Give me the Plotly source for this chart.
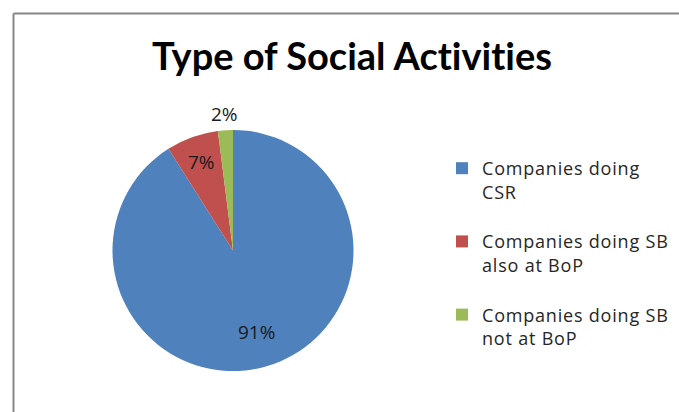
import math
import plotly.graph_objects as go

# Share of companies by type of social activity
categories = [
    "Companies doing<br>CSR",
    "Companies doing SB<br>also at BoP",
    "Companies doing SB<br>not at BoP",
]
shares = [91, 7, 2]
colors = ["#4F81BD", "#C0504D", "#9BBB59"]

# radial placement of each percentage label, as a fraction of the radius
label_radius = [0.70, 0.78, 1.13]

W, H = 679, 412
# pie box in pixels: left, right, top, bottom
PX0, PX1, PY0, PY1 = 112, 354, 130, 371
cx, cy = (PX0 + PX1) / 2, (PY0 + PY1) / 2
R = (PX1 - PX0) / 2

# legend entries: slightly tracked text plus a blank line as spacing between items
legend_labels = [
    f'<span style="letter-spacing:0.8px">{c}</span><br> ' for c in categories
]

fig = go.Figure(
    go.Pie(
        labels=legend_labels,
        values=shares,
        sort=False,
        direction="clockwise",
        rotation=0,
        marker=dict(colors=colors, line=dict(width=0)),
        textinfo="none",
        domain=dict(x=[PX0 / W, PX1 / W], y=[(H - PY1) / H, (H - PY0) / H]),
        hoverinfo="percent",
    )
)

# percentage labels placed at each slice's mid-angle
total = sum(shares)
cum = 0
annotations = []
for v, rf in zip(shares, label_radius):
    mid = (cum + v / 2) / total * 2 * math.pi
    cum += v
    px = cx + rf * R * math.sin(mid)
    py = cy - rf * R * math.cos(mid)
    annotations.append(dict(
        x=px / W, y=(H - py) / H, xref="paper", yref="paper",
        text=f"{v}%", showarrow=False, xanchor="center", yanchor="middle",
        font=dict(family="Open Sans", size=19, color="#1a1a1a"),
    ))

fig.update_layout(
    width=W,
    height=H,
    margin=dict(l=0, r=0, t=0, b=0),
    paper_bgcolor="white",
    plot_bgcolor="white",
    annotations=annotations,
    title=dict(
        text='<span style="font-variant-ligatures:none"><b>Type of Social Activities</b></span>',
        x=352 / W,
        xanchor="center",
        y=(H - 57) / H,
        yanchor="middle",
        font=dict(family="Lato", size=38, color="#000000"),
    ),
    legend=dict(
        x=442 / W,
        xanchor="left",
        y=(H - 150) / H,
        yanchor="top",
        valign="top",
        font=dict(family="Open Sans", size=18, color="#262626"),
        bgcolor="rgba(0,0,0,0)",
    ),
    shapes=[
        dict(type="line", xref="paper", yref="paper",
             x0=13.5 / W, x1=1, y0=(H - 13.5) / H, y1=(H - 13.5) / H,
             line=dict(color="#868686", width=2)),
        dict(type="line", xref="paper", yref="paper",
             x0=13.5 / W, x1=13.5 / W, y0=0, y1=(H - 13.5) / H,
             line=dict(color="#868686", width=2)),
    ],
)

fig.write_html("out.html")
